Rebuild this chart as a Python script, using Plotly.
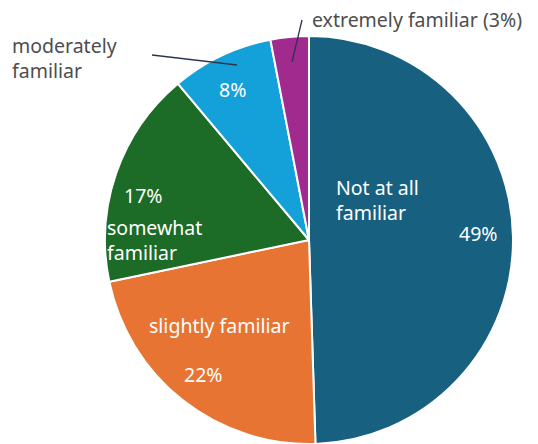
import plotly.graph_objects as go

# Familiarity survey shares (percent)
labels = ["Not at all familiar", "slightly familiar", "somewhat familiar",
          "moderately familiar", "extremely familiar"]
values = [49, 22, 17, 8, 3]
colors = ["#17607F", "#E87434", "#1C6B27", "#14A1D9", "#A12A8F"]

W, H = 538, 444
cx, cy, r = 309, 240, 204  # pie centre / radius in pixels


def px(x):
    return x / W


def py(y):
    return 1 - y / H


fig = go.Figure(go.Pie(
    labels=labels,
    values=values,
    marker=dict(colors=colors, line=dict(color="white", width=2)),
    sort=False,
    direction="clockwise",
    rotation=0,
    textinfo="none",
    hoverinfo="label+percent",
    showlegend=False,
    domain=dict(x=[px(cx - r), px(cx + r)],
                y=[max(0, py(cy + r)), py(cy - r)]),
))

FONT = "Noto Sans"
white = dict(family=FONT, size=19.5, color="white")
grey = dict(family=FONT, size=19.5, color="#4D4D4D")

pct = {lab: f"{v}%" for lab, v in zip(labels, values)}

annotations = [
    dict(x=px(334), y=py(200), text="Not at all<br>familiar", font=white,
         xanchor="left", align="left"),
    dict(x=px(478), y=py(233), text=pct[labels[0]], font=white),
    dict(x=px(219), y=py(325), text="slightly familiar", font=white),
    dict(x=px(203), y=py(374), text=pct[labels[1]], font=white),
    dict(x=px(143), y=py(196), text=pct[labels[2]], font=white),
    dict(x=px(105), y=py(240), text="somewhat<br>familiar", font=white,
         xanchor="left", align="left"),
    dict(x=px(232), y=py(89), text=pct[labels[3]], font=white),
    dict(x=px(10), y=py(58), text="moderately<br>familiar", font=grey,
         xanchor="left", align="left"),
    dict(x=px(310), y=py(20), text=f"extremely familiar ({pct[labels[4]]})",
         font=grey, xanchor="left"),
]
for a in annotations:
    a.setdefault("xanchor", "center")
    a.update(xref="paper", yref="paper", yanchor="middle", showarrow=False)

line = dict(color="#2A3550", width=1.3)
shapes = [
    dict(type="line", xref="paper", yref="paper",
         x0=px(152), y0=py(55), x1=px(237), y1=py(65), line=line),
    dict(type="line", xref="paper", yref="paper",
         x0=px(302), y0=py(20), x1=px(292), y1=py(62), line=line),
]

fig.update_layout(
    width=W, height=H,
    margin=dict(l=0, r=0, t=0, b=0),
    paper_bgcolor="white",
    plot_bgcolor="white",
    annotations=annotations,
    shapes=shapes,
)

fig.write_html("out.html")
